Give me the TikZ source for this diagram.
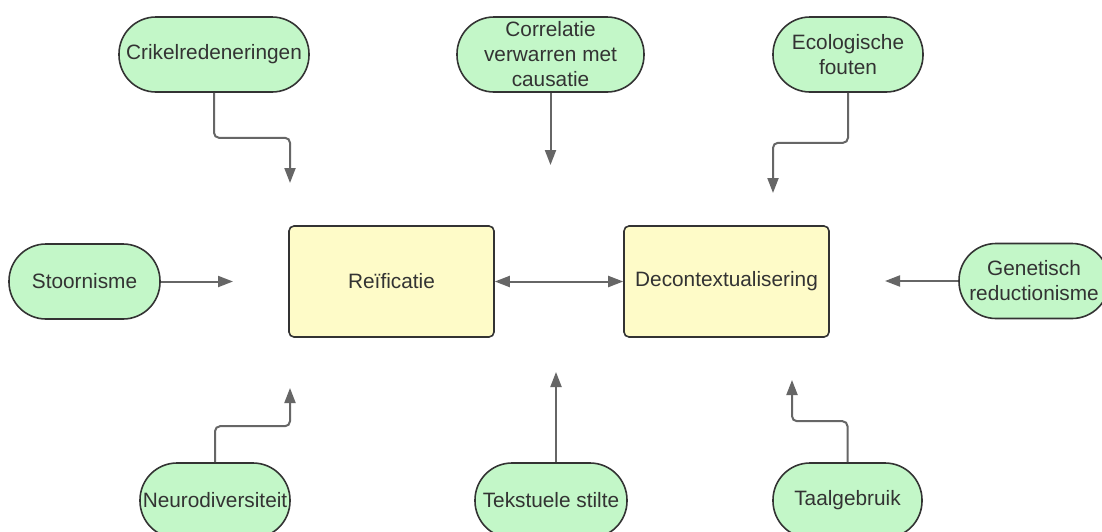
\documentclass[tikz,border=0pt]{standalone}
\usepackage{fontspec}
\setmainfont{Liberation Sans}
\usetikzlibrary{arrows.meta}
\definecolor{pillfill}{HTML}{C3F7C8}
\definecolor{boxfill}{HTML}{FEFBC8}
\definecolor{edgecol}{HTML}{333333}
\definecolor{conncol}{HTML}{666666}
\definecolor{txtcol}{HTML}{333333}
\begin{document}
\begin{tikzpicture}[x=1pt,y=-1pt,
  pill/.style={draw=edgecol, line width=1.6pt, fill=pillfill, rounded corners=37pt,
    minimum width=150pt, minimum height=75pt, inner sep=0pt, align=center,
    font=\fontsize{20.8}{25}\selectfont, text=txtcol},
  box/.style={draw=edgecol, line width=1.6pt, fill=boxfill, rounded corners=5pt,
    minimum width=205pt, minimum height=111pt, inner sep=0pt,
    font=\fontsize{20.8}{25}\selectfont, text=txtcol},
  conn/.style={draw=conncol, line width=2pt, -{Triangle[length=15pt,width=11pt]}, rounded corners=5pt},
  biconn/.style={draw=conncol, line width=2pt, {Triangle[length=15pt,width=11pt]}-{Triangle[length=15pt,width=11pt]}}]
\useasboundingbox[fill=white] (0,0) rectangle (1102,531);

\node[pill, minimum width=190pt] (crik) at (214,54.5) {Crikelredeneringen};
\node[pill, minimum width=187pt] (corr) at (550.5,54.5) {Correlatie\\verwarren met\\causatie};
\node[pill] (eco) at (848,54.5) {Ecologische\\fouten};
\node[pill, minimum width=151pt] (stoor) at (84.5,281.5) {Stoornisme};
\node[pill] (gen) at (1034,281) {Genetisch\\reductionisme};
\node[pill] (neuro) at (215,500.5) {Neurodiversiteit};
\node[pill, minimum width=152pt] (tekst) at (551,500.5) {Tekstuele stilte};
\node[pill, minimum width=149pt] (taal) at (847.5,500.5) {Taalgebruik};

\node[box] (reif) at (391.5,281.5) {Reïficatie};
\node[box] (deco) at (726.5,281.5) {Decontextualisering};

\coordinate (c1) at (290,183);
\coordinate (c2) at (550.5,165);
\coordinate (c3) at (773,193);
\coordinate (c4) at (233,281.5);
\coordinate (c5) at (885,281);
\coordinate (c6) at (290,388);
\coordinate (c7) at (556,372);
\coordinate (c8) at (792,380);

\draw[conn] (crik.south) -- ++(0,45) -| (c1);
\draw[conn] (corr.south) -- (c2);
\draw[conn] (eco.south) -- ++(0,50) -| (c3);
\draw[conn] (stoor.east) -- (c4);
\draw[conn] (gen.west) -- (c5);
\draw[conn] (neuro.north) -- ++(0,-36) -| (c6);
\draw[conn] ([xshift=5pt]tekst.north) -- (c7);
\draw[conn] (taal.north) -- ++(0,-41) -| (c8);
\draw[biconn] (reif.east) -- (deco.west);
\end{tikzpicture}
\end{document}
